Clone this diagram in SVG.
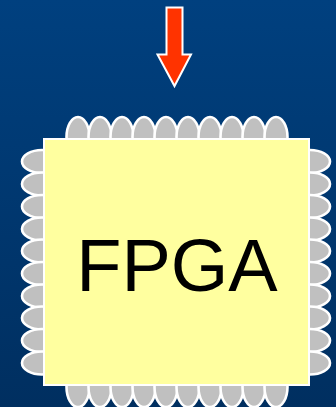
<svg xmlns="http://www.w3.org/2000/svg" width="336" height="407" viewBox="0 0 336 407">
<style>
.pin{fill:#c0c0c0;stroke:#fff;stroke-width:2.600}
.lbl{font-family:"Liberation Sans",Arial,sans-serif;font-size:74px;fill:#000;text-anchor:middle}
</style>
<defs>
<linearGradient id="bg" x1="0" y1="0" x2="0" y2="1"><stop offset="0" stop-color="#00407f"/><stop offset="1" stop-color="#002f60"/></linearGradient>
<ellipse id="v" class="pin" rx="11.500" ry="20"/>
<ellipse id="h" class="pin" rx="20" ry="11.500"/>
</defs>
<rect width="336" height="407" fill="url(#bg)"/>
<g id="pins-top">
<use href="#v" x="78" y="137"/><use href="#v" x="100" y="137"/><use href="#v" x="122" y="137"/><use href="#v" x="144" y="137"/><use href="#v" x="166" y="137"/><use href="#v" x="188" y="137"/><use href="#v" x="210" y="137"/><use href="#v" x="232" y="137"/><use href="#v" x="254" y="137"/><use href="#v" x="276" y="137"/>
</g>
<g id="pins-bottom">
<use href="#v" x="78" y="387"/><use href="#v" x="100" y="387"/><use href="#v" x="122" y="387"/><use href="#v" x="144" y="387"/><use href="#v" x="166" y="387"/><use href="#v" x="188" y="387"/><use href="#v" x="210" y="387"/><use href="#v" x="232" y="387"/><use href="#v" x="254" y="387"/><use href="#v" x="276" y="387"/>
</g>
<g id="pins-left">
<use href="#h" x="42" y="161.500"/><use href="#h" x="42" y="184"/><use href="#h" x="42" y="206.500"/><use href="#h" x="42" y="229"/><use href="#h" x="42" y="251"/><use href="#h" x="42" y="273.500"/><use href="#h" x="42" y="296"/><use href="#h" x="42" y="318"/><use href="#h" x="42" y="340.500"/><use href="#h" x="42" y="363"/>
</g>
<g id="pins-right">
<use href="#h" x="310" y="161.500"/><use href="#h" x="310" y="184"/><use href="#h" x="310" y="206.500"/><use href="#h" x="310" y="229"/><use href="#h" x="310" y="251"/><use href="#h" x="310" y="273.500"/><use href="#h" x="310" y="296"/><use href="#h" x="310" y="318"/><use href="#h" x="310" y="340.500"/><use href="#h" x="310" y="363"/>
</g>
<g id="fpga">
<rect x="44" y="139" width="265" height="246" fill="#ffff9f" stroke="#fff" stroke-width="2"/>
<text class="lbl" x="177" y="291">FPGA</text>
</g>
<g id="connectors">
<path d="M166.500 7.500H182.500V54.500H191L174.500 86L157.500 54.500H166.500Z" fill="#ff3300" stroke="#fff" stroke-width="2"/>
</g>
</svg>
